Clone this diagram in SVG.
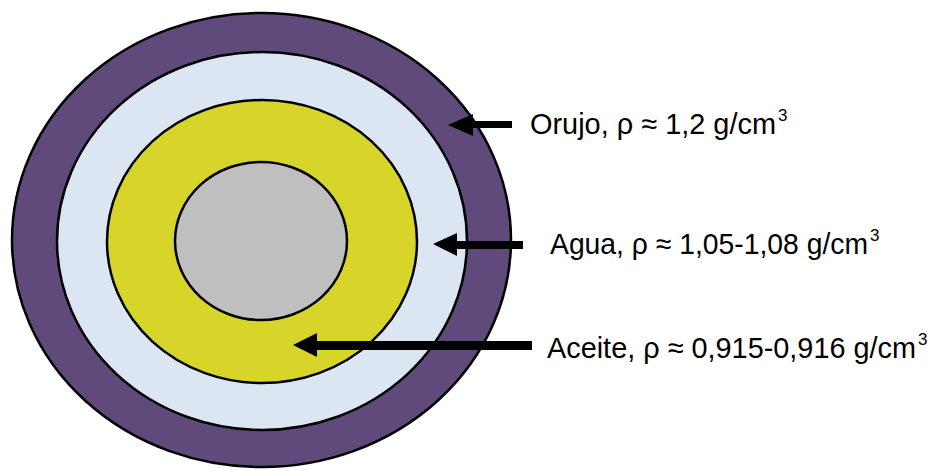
<svg xmlns="http://www.w3.org/2000/svg" width="933" height="471" viewBox="0 0 933 471">
<style>
.ring{stroke:#000;stroke-width:2.5}
.lbl{font-family:"Liberation Sans",Arial,sans-serif;font-size:30px;fill:#000}
.sup{font-size:17px}
.arr{fill:#000}
</style>
<rect width="933" height="471" fill="#fff"/>
<g id="orujo"><ellipse class="ring" cx="261.5" cy="240" rx="249.5" ry="227" fill="#604a7b"/></g>
<g id="agua"><ellipse class="ring" cx="262" cy="241" rx="205" ry="189" fill="#dce6f2"/></g>
<g id="aceite"><ellipse class="ring" cx="262" cy="241.5" rx="155" ry="141.5" fill="#d7d52a"/></g>
<g id="orujo-core"><ellipse class="ring" cx="261" cy="241" rx="86" ry="79" fill="#bfbfbf"/></g>
<g id="connectors">
<polygon class="arr" points="448,125 473,114 473,121 512,121 512,128 473,128 473,136"/>
<polygon class="arr" points="433,244 457,233 457,241 523,241 523,249 457,249 457,256"/>
<polygon class="arr" points="293,345 317,333 317,341 532,341 532,350 317,350 317,357"/>
</g>
<g id="label-orujo"><text class="lbl" x="530" y="134"><tspan textLength="246" lengthAdjust="spacingAndGlyphs">Orujo, ρ ≈ 1,2 g/cm</tspan><tspan class="sup" dx="2" dy="-13">3</tspan></text></g>
<g id="label-agua"><text class="lbl" x="550" y="254"><tspan textLength="318" lengthAdjust="spacingAndGlyphs">Agua, ρ ≈ 1,05-1,08 g/cm</tspan><tspan class="sup" dx="2" dy="-13">3</tspan></text></g>
<g id="label-aceite"><text class="lbl" x="547" y="358"><tspan textLength="369" lengthAdjust="spacingAndGlyphs">Aceite, ρ ≈ 0,915-0,916 g/cm</tspan><tspan class="sup" dx="2" dy="-13">3</tspan></text></g>
</svg>
